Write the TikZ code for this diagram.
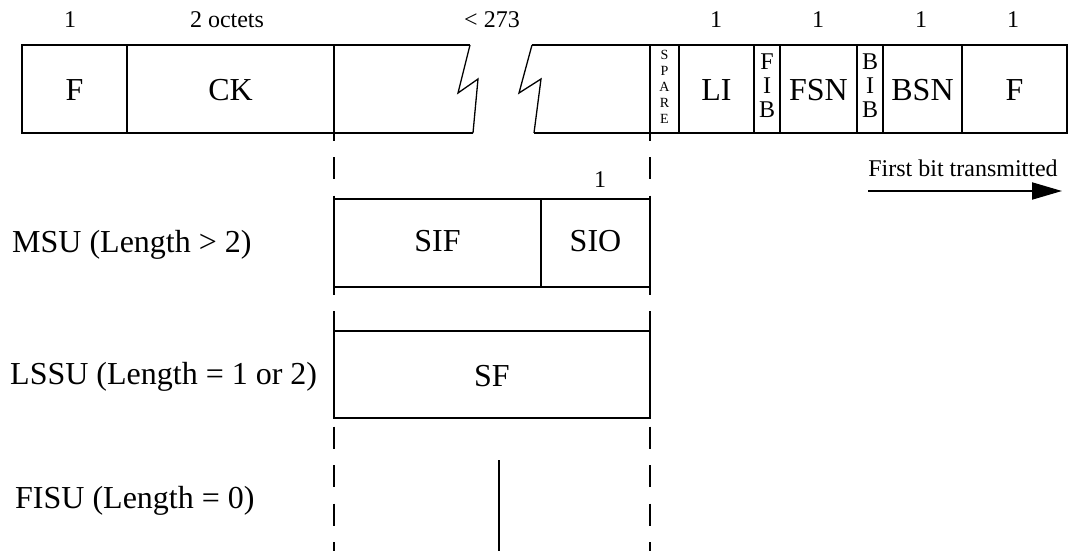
\documentclass[tikz,border=0pt]{standalone}
\usepackage{fontspec}
\setmainfont{Liberation Serif}
\usetikzlibrary{arrows.meta}
\begin{document}
\begin{tikzpicture}[x=1pt,y=-1pt,
  thickline/.style={line width=2.6pt, line join=miter},
  thinline/.style={line width=1.3pt},
  dashline/.style={line width=1.3pt, dash pattern=on 22pt off 16.5pt, dash phase=14.5pt},
  big/.style={inner sep=0pt, anchor=base, font=\fontsize{32}{36}\selectfont},
  side/.style={inner sep=0pt, anchor=base west, font=\fontsize{32}{36}\selectfont},
  toplbl/.style={inner sep=0pt, anchor=base, font=\fontsize{24}{28}\selectfont},
  vert/.style={inner sep=0pt, align=center, font=\fontsize{24}{24}\selectfont},
  spare/.style={inner sep=0pt, align=center, font=\fontsize{14}{16}\selectfont}]
\useasboundingbox (0,0) rectangle (1072,551);

% dashed guide lines
\draw[dashline] (334,133) -- (334,551);
\draw[dashline] (650,133) -- (650,551);

% top frame, left piece
\draw[thickline] (470,45) -- (22,45) -- (22,133) -- (473,133);
\draw[thinline] (470,45) -- (458,93) -- (478,79) -- (473,133);
% top frame, right piece
\draw[thickline] (532,45) -- (1067,45) -- (1067,133) -- (534,133);
\draw[thinline] (532,45) -- (519,93) -- (541,79) -- (534,133);
% dividers
\foreach \x in {127,334,650,754,857,962} \draw[thickline] (\x,45) -- (\x,133);
\foreach \x in {679,780,883} \draw[thinline] (\x,45) -- (\x,133);

% field labels
\node[big] (f1) at (74.5,100.5) {F};
\node[big] (ck) at (230.5,100.5) {CK};
\node[spare] (sp) at (664.5,87) {S\\P\\A\\R\\E};
\node[big] (li) at (716.5,100.5) {LI};
\node[vert] (fib) at (767,86) {F\\I\\B};
\node[big] (fsn) at (818.5,100.5) {FSN};
\node[vert] (bib) at (870,86) {B\\I\\B};
\node[big] (bsn) at (922.5,100.5) {BSN};
\node[big] (f2) at (1014.5,100.5) {F};

% octet counts
\node[toplbl] (n1) at (70,28) {1};
\node[toplbl] (n2) at (227,28) {2 octets};
\node[toplbl] (n3) at (492,28) {< 273};
\node[toplbl] (n4) at (716,28) {1};
\node[toplbl] (n5) at (818,28) {1};
\node[toplbl] (n6) at (921,28) {1};
\node[toplbl] (n7) at (1013,28) {1};

% direction arrow
\node[toplbl] (fbt) at (963,176) {First bit transmitted};
\coordinate (arrS) at (868,191);
\coordinate (arrE) at (1062,191);
\draw[line width=2pt, -{Triangle[length=30pt,width=17pt]}] (arrS) -- (arrE);

% MSU
\draw[thinline, fill=white] (334,199) rectangle (650,287);
\draw[thinline] (541,199) -- (541,287);
\node[big] (sif) at (437.5,251) {SIF};
\node[big] (sio) at (595.5,251) {SIO};
\node[toplbl] (n8) at (600,187) {1};
\node[side] (msu) at (12,252) {MSU (Length > 2)};

% LSSU
\draw[thinline, fill=white] (334,331) rectangle (650,418);
\node[big] (sf) at (492,386) {SF};
\node[side] (lssu) at (10,384) {LSSU (Length = 1 or 2)};

% FISU
\draw[thinline] (499,460) -- (499,551);
\node[side] (fisu) at (15,508) {FISU (Length = 0)};
\end{tikzpicture}
\end{document}
